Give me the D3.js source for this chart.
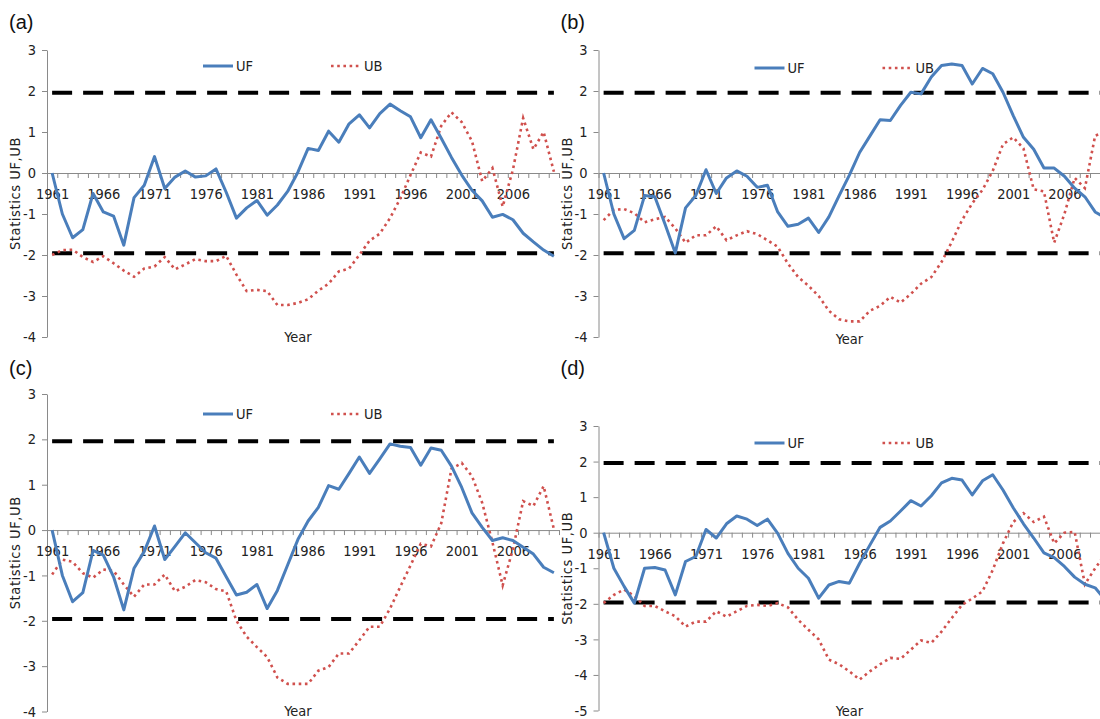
<!DOCTYPE html>
<html>
<head>
<meta charset="utf-8">
<script src="https://cdn.jsdelivr.net/npm/d3@7"></script>
<style>
  body { margin: 0; background: #fff; }
  svg { display: block; }
  .tick text, .lbl { font-family: "Liberation Sans Narrow", "DejaVu Sans Condensed", sans-serif; font-size: 14.5px; fill: #222; }
  .tag { font-family: "Liberation Sans", Arial, sans-serif; font-size: 20px; fill: #111; }
</style>
</head>
<body>
<svg id="chart" width="1100" height="719"></svg>
<script>
// categories
const years = [1961,1962,1963,1964,1965,1966,1967,1968,1969,1970,
               1971,1972,1973,1974,1975,1976,1977,1978,1979,1980,
               1981,1982,1983,1984,1985,1986,1987,1988,1989,1990,
               1991,1992,1993,1994,1995,1996,1997,1998,1999,2000,
               2001,2002,2003,2004,2005,2006,2007,2008,2009,2010];
const labelYears = [1961, 1966, 1971, 1976, 1981, 1986, 1991, 1996, 2001, 2006];
const yTicks = [3, 2, 1, 0, -1, -2, -3, -4];
const yTicksD = [3, 2, 1, 0, -1, -2, -3, -4, -5];
const critical = 1.96;

// series values
const ufA = [0, -1.0, -1.58, -1.38, -0.5, -0.95, -1.05, -1.76, -0.6, -0.3,
             0.4, -0.38, -0.1, 0.05, -0.1, -0.07, 0.1, -0.47, -1.1, -0.85,
             -0.67, -1.03, -0.78, -0.45, 0.02, 0.6, 0.55, 1.02, 0.75, 1.2,
             1.42, 1.1, 1.45, 1.68, 1.52, 1.37, 0.86, 1.3, 0.85, 0.38,
             -0.05, -0.42, -0.68, -1.08, -1.01, -1.14, -1.47, -1.68, -1.88, -2.03];
const ubA = [-2.0, -1.88, -1.87, -2.05, -2.17, -2.03, -2.2, -2.38, -2.53, -2.33,
             -2.28, -2.05, -2.35, -2.23, -2.1, -2.15, -2.15, -2.02, -2.48, -2.88,
             -2.85, -2.88, -3.22, -3.22, -3.17, -3.08, -2.87, -2.7, -2.4, -2.33,
             -2.0, -1.65, -1.48, -1.1, -0.62, -0.05, 0.5, 0.4, 1.15, 1.48,
             1.24, 0.78, -0.2, 0.12, -0.82, 0.08, 1.34, 0.58, 1.0, 0.03];
const ufB = [0, -1.0, -1.6, -1.4, -0.55, -0.58, -1.25, -1.95, -0.85, -0.55,
             0.08, -0.5, -0.12, 0.05, -0.08, -0.35, -0.3, -0.95, -1.3, -1.25,
             -1.1, -1.45, -1.07, -0.55, -0.05, 0.5, 0.9, 1.3, 1.28, 1.65,
             1.97, 1.93, 2.34, 2.62, 2.66, 2.62, 2.17, 2.55, 2.42, 1.97,
             1.4, 0.87, 0.58, 0.12, 0.12, -0.08, -0.37, -0.58, -0.95, -1.1];
const ubB = [-1.15, -0.9, -0.88, -0.98, -1.2, -1.13, -1.07, -1.35, -1.7, -1.52,
             -1.52, -1.3, -1.64, -1.52, -1.42, -1.49, -1.64, -1.8, -2.21, -2.54,
             -2.75, -3.0, -3.36, -3.57, -3.62, -3.62, -3.36, -3.24, -3.02, -3.16,
             -2.95, -2.7, -2.54, -2.17, -1.68, -1.15, -0.74, -0.41, 0.05, 0.7,
             0.87, 0.6, -0.4, -0.45, -1.7, -1.0, -0.12, -0.37, 0.91, 1.0];
const ufC = [0, -1.0, -1.58, -1.38, -0.45, -0.55, -1.03, -1.76, -0.84, -0.47,
             0.09, -0.65, -0.36, -0.06, -0.28, -0.5, -0.62, -1.03, -1.43, -1.37,
             -1.2, -1.73, -1.33, -0.77, -0.21, 0.2, 0.5, 0.98, 0.9, 1.25,
             1.61, 1.25, 1.57, 1.9, 1.85, 1.82, 1.43, 1.81, 1.76, 1.41,
             0.94, 0.38, 0.06, -0.23, -0.17, -0.23, -0.38, -0.53, -0.82, -0.94];
const ubC = [-0.98, -0.65, -0.7, -0.95, -1.05, -0.87, -0.9, -1.2, -1.47, -1.2,
             -1.2, -0.98, -1.35, -1.25, -1.1, -1.15, -1.3, -1.35, -2.0, -2.35,
             -2.58, -2.8, -3.25, -3.39, -3.39, -3.39, -3.1, -3.02, -2.72, -2.72,
             -2.43, -2.13, -2.13, -1.73, -1.25, -0.78, -0.3, -0.36, 0.15, 1.35,
             1.48, 1.19, 0.6, -0.27, -1.22, -0.42, 0.64, 0.53, 0.97, 0.02];
const ufD = [0, -1.0, -1.51, -1.98, -1.0, -0.98, -1.05, -1.75, -0.81, -0.67,
             0.09, -0.15, 0.25, 0.47, 0.38, 0.2, 0.38, -0.02, -0.58, -1.0,
             -1.28, -1.84, -1.47, -1.37, -1.42, -0.86, -0.35, 0.15, 0.33, 0.61,
             0.9, 0.75, 1.04, 1.4, 1.53, 1.48, 1.06, 1.46, 1.63, 1.2,
             0.7, 0.25, -0.15, -0.57, -0.7, -0.95, -1.25, -1.45, -1.55, -1.9];
const ubD = [-1.98, -1.75, -1.6, -1.78, -2.06, -2.06, -2.21, -2.35, -2.64, -2.5,
             -2.5, -2.21, -2.36, -2.21, -2.06, -2.03, -2.06, -1.98, -2.1, -2.45,
             -2.73, -3.0, -3.57, -3.7, -3.9, -4.13, -3.9, -3.7, -3.52, -3.55,
             -3.29, -3.03, -3.1, -2.78, -2.4, -2.03, -1.85, -1.65, -1.05, -0.3,
             0.3, 0.55, 0.3, 0.45, -0.3, 0.0, 0.02, -1.45, -1.0, -0.6];

const BLUE = "#4a7ebb", RED = "#d0504d", AXIS = "#8a8a8a";

// panel layout
const panels = [
  { tag: "(a)", uf: ufA, ub: ubA, ticks: yTicks, axisX: 47,    yRange: [337, 50],      tagY: 29,  legY: 66,  yearY: 342 },
  { tag: "(b)", uf: ufB, ub: ubB, ticks: yTicks, axisX: 598.5, yRange: [337, 50],      tagY: 29,  legY: 68,  yearY: 344 },
  { tag: "(c)", uf: ufC, ub: ubC, ticks: yTicks, axisX: 47,    yRange: [711.5, 394],   tagY: 375, legY: 414, yearY: 716 },
  { tag: "(d)", uf: ufD, ub: ubD, ticks: yTicksD, axisX: 598.5, yRange: [710.5, 426],  tagY: 375, legY: 443, yearY: 716 }
];

const svg = d3.select("#chart");

panels.forEach(p => {
  const g = svg.append("g");
  const x = d3.scaleLinear()
    .domain([years[0] - 0.5, years[years.length - 1] + 0.5])
    .range([p.axisX, p.axisX + 512]);
  const y = d3.scaleLinear()
    .domain([d3.min(p.ticks), d3.max(p.ticks)])
    .range(p.yRange);

  // y axis
  g.append("g")
    .attr("transform", `translate(${p.axisX},0)`)
    .call(d3.axisLeft(y).tickValues(p.ticks).tickSize(5).tickSizeOuter(0).tickPadding(6).tickFormat(d => String(d)))
    .call(a => a.selectAll("line,path").attr("stroke", AXIS));

  // x axis: tick marks between categories at y = 0
  const bounds = years.map(d => d - 0.5).concat([years[years.length - 1] + 0.5]);
  g.append("g")
    .attr("transform", `translate(0,${y(0)})`)
    .call(d3.axisBottom(x).tickValues(bounds).tickSize(5).tickSizeOuter(0).tickFormat(""))
    .call(a => a.selectAll("line,path").attr("stroke", AXIS));

  // category labels
  g.append("g")
    .attr("transform", `translate(0,${y(0)})`)
    .call(d3.axisBottom(x).tickValues(labelYears).tickSize(0).tickPadding(16).tickFormat(d3.format("d")))
    .call(a => a.select(".domain").remove());

  // critical lines
  const line = d3.line().x((d, i) => x(years[i])).y(d => y(d));
  [critical, -critical].forEach(c => {
    g.append("path")
      .datum(years.map(() => c))
      .attr("d", line)
      .attr("fill", "none")
      .attr("stroke", "#000")
      .attr("stroke-width", 4)
      .attr("stroke-dasharray", "20,11");
  });

  // UB dotted
  g.append("path")
    .datum(p.ub)
    .attr("d", line)
    .attr("fill", "none")
    .attr("stroke", RED)
    .attr("stroke-width", 2.6)
    .attr("stroke-dasharray", "2.6,3.6");

  // UF solid
  g.append("path")
    .datum(p.uf)
    .attr("d", line)
    .attr("fill", "none")
    .attr("stroke", BLUE)
    .attr("stroke-width", 3)
    .attr("stroke-linejoin", "round");

  // legend
  const lx = p.axisX;
  g.append("line").attr("x1", lx + 156).attr("x2", lx + 186).attr("y1", p.legY).attr("y2", p.legY)
    .attr("stroke", BLUE).attr("stroke-width", 3);
  g.append("text").attr("class", "lbl").attr("x", lx + 189).attr("y", p.legY + 5).text("UF");
  g.append("line").attr("x1", lx + 284).attr("x2", lx + 313).attr("y1", p.legY).attr("y2", p.legY)
    .attr("stroke", RED).attr("stroke-width", 2.6).attr("stroke-dasharray", "2.6,3.6");
  g.append("text").attr("class", "lbl").attr("x", lx + 317).attr("y", p.legY + 5).text("UB");

  // titles
  g.append("text").attr("class", "tag").attr("x", p.axisX - 38).attr("y", p.tagY).text(p.tag);
  g.append("text").attr("class", "lbl").attr("text-anchor", "middle")
    .attr("x", p.axisX + 251).attr("y", p.yearY).text("Year");
  const cy = (p.yRange[0] + p.yRange[1]) / 2;
  g.append("text").attr("class", "lbl").attr("text-anchor", "middle")
    .attr("transform", `translate(${p.axisX - 27},${cy}) rotate(-90)`)
    .style("letter-spacing", "0.6px")
    .text("Statistics UF,UB");
});
</script>
</body>
</html>
